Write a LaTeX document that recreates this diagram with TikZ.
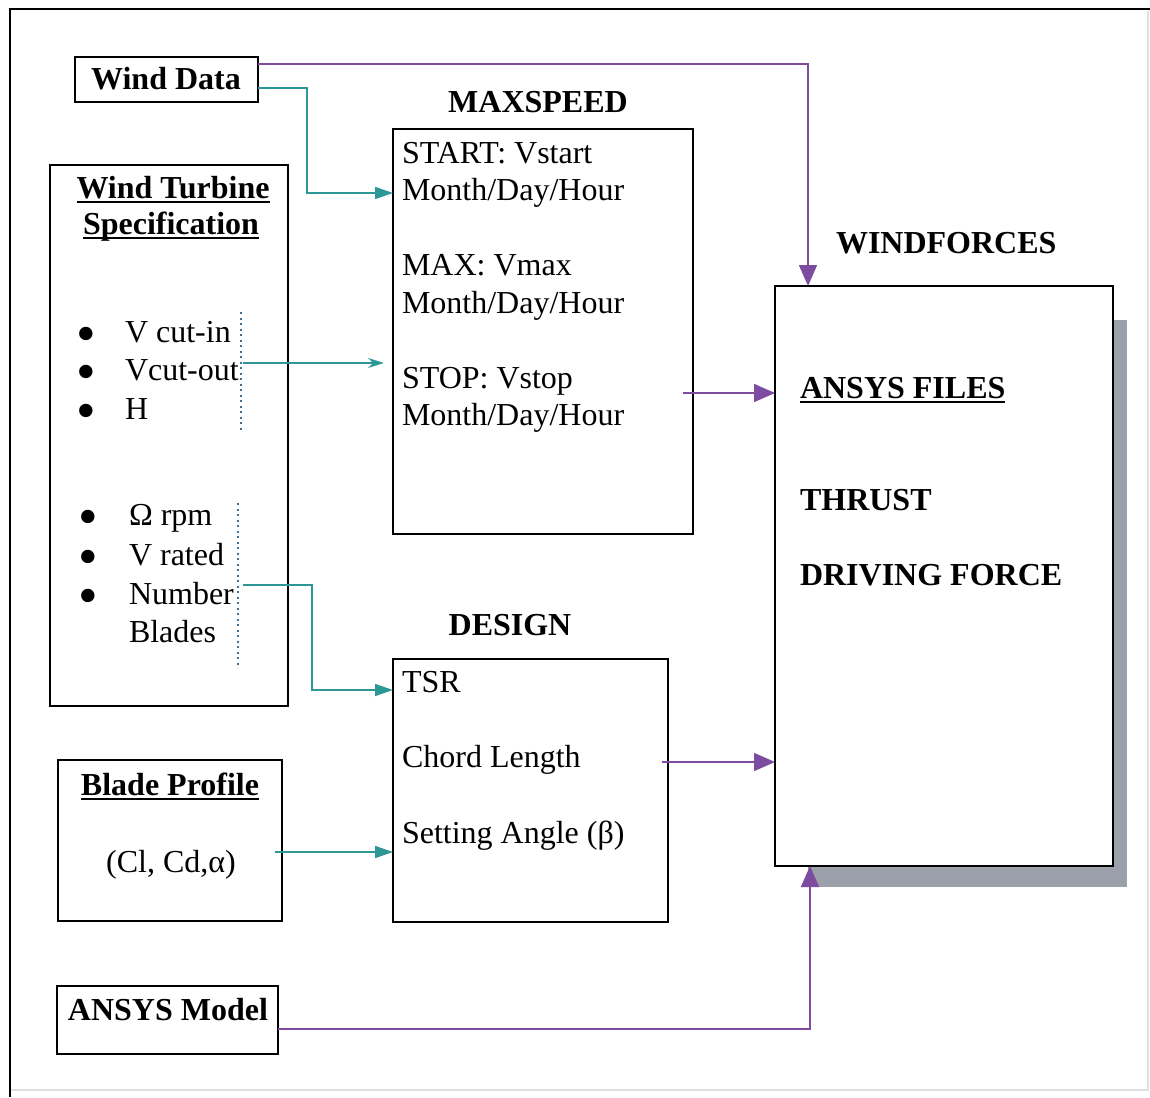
\documentclass[tikz,border=0pt]{standalone}
\usepackage{graphicx}
\usepackage{fontspec}
\setmainfont{Liberation Serif}
\usetikzlibrary{arrows.meta}
\definecolor{tealc}{RGB}{45,150,150}
\definecolor{purp}{RGB}{125,75,160}
\definecolor{dotc}{RGB}{60,110,150}
\definecolor{shad}{RGB}{155,160,170}
\newcommand\myul[1]{\setbox0\hbox{#1}\rlap{\rule[-5pt]{\wd0}{2pt}}\box0}
\newcommand\bigbul{\scalebox{1.75}{•}}
\begin{document}
\begin{tikzpicture}[x=1pt,y=-1pt,
 box/.style={draw=black, line width=2.4pt, fill=white, inner sep=0pt, outer sep=0pt, anchor=north west},
 txt/.style={inner sep=0pt, outer sep=0pt, font=\fontsize{32}{38}\selectfont, anchor=base west},
 txtc/.style={txt, anchor=base},
 bul/.style={inner sep=0pt, outer sep=0pt, font=\fontsize{32}{34}\selectfont, text height=6pt, text depth=0pt, anchor=base},
 bold/.style={font=\fontsize{32}{38}\selectfont\bfseries},
 tealarr/.style={draw=tealc, line width=1.6pt, -{Triangle[length=18pt,width=12pt]}},
 thinarr/.style={draw=tealc, line width=1.2pt, -{Stealth[length=16pt,width=10pt]}},
 purparr/.style={draw=purp, line width=1.6pt, -{Triangle[length=21pt,width=18pt]}},
 dotl/.style={draw=dotc, line width=2pt, dash pattern=on 2pt off 3.5pt},
 frame/.style={draw=black, line width=2pt},
 faint/.style={draw=black!12, line width=2pt}]
\useasboundingbox (0,0) rectangle (1150,1097);
% outer frame
\draw[faint] (1148,9) -- (1148,1090) -- (10,1090);
\draw[frame] (10,1097) -- (10,9) -- (1150,9);
% shadow of WINDFORCES box
\fill[shad] (808,320) rectangle (1127,887);
% boxes
\node[box, minimum width=183pt, minimum height=45pt] (wd) at (75,57) {};
\node[box, minimum width=238pt, minimum height=541pt] (wts) at (50,165) {};
\node[box, minimum width=224pt, minimum height=161pt] (bp) at (58,760) {};
\node[box, minimum width=221pt, minimum height=68pt] (am) at (57,986) {};
\node[box, minimum width=300pt, minimum height=405pt] (ms) at (393,129) {};
\node[box, minimum width=275pt, minimum height=263pt] (ds) at (393,659) {};
\node[box, minimum width=338pt, minimum height=580pt] (wf) at (775,286) {};
% titles
\node[txtc, bold] (t1) at (166,90) {Wind Data};
\node[txtc, bold] (t2) at (173,198) {\myul{Wind Turbine}};
\node[txtc, bold] (t3) at (171,234) {\myul{Specification}};
\node[txtc, bold] (t4) at (170,795) {\myul{Blade Profile}};
\node[txtc] (t5) at (171,872) {(Cl, Cd,α)};
\node[txtc, bold] (t6) at (168,1020) {ANSYS Model};
\node[txtc, bold] (t7) at (538,113) {MAXSPEED};
\node[txtc, bold] (t8) at (510,635) {DESIGN};
\node[txt, bold] (t9) at (836,253) {WINDFORCES};
% bullets
\node[bul] (b1) at (86,352) {\bigbul};
\node[bul] (b2) at (86,390) {\bigbul};
\node[bul] (b3) at (86,429) {\bigbul};
\node[bul] (b4) at (88,535) {\bigbul};
\node[bul] (b5) at (88,575) {\bigbul};
\node[bul] (b6) at (88,614) {\bigbul};
\node[txt] (s1) at (125,342) {V cut-in};
\node[txt] (s2) at (125,380) {Vcut-out};
\node[txt] (s3) at (125,419) {H};
\node[txt] (s4) at (129,525) {Ω rpm};
\node[txt] (s5) at (129,565) {V rated};
\node[txt] (s6) at (129,604) {Number};
\node[txt] (s7) at (129,642) {Blades};
% maxspeed content
\node[txt] (m1) at (402,163) {START: Vstart};
\node[txt] (m2) at (402,200) {Month/Day/Hour};
\node[txt] (m3) at (402,275) {MAX: Vmax};
\node[txt] (m4) at (402,313) {Month/Day/Hour};
\node[txt] (m5) at (402,388) {STOP: Vstop};
\node[txt] (m6) at (402,425) {Month/Day/Hour};
% design content
\node[txt] (d1) at (402,692) {TSR};
\node[txt] (d2) at (402,767) {Chord Length};
\node[txt] (d3) at (402,843) {Setting Angle (β)};
% windforces content
\node[txt, bold] (w1) at (800,398) {\myul{ANSYS FILES}};
\node[txt, bold] (w2) at (800,510) {THRUST};
\node[txt, bold] (w3) at (800,585) {DRIVING FORCE};
% dotted markers
\coordinate (dA1) at (241,312);
\coordinate (dA2) at (241,430);
\coordinate (dB1) at (238,503);
\coordinate (dB2) at (238,668);
\draw[dotl] (dA1) -- (dA2);
\draw[dotl] (dB1) -- (dB2);
% bend coordinates
\coordinate (k1) at (307,88);
\coordinate (k2) at (307,193);
\coordinate (k3) at (808,64);
\coordinate (k4) at (243,363);
\coordinate (k5) at (243,585);
\coordinate (k6) at (312,585);
\coordinate (k7) at (312,690);
\coordinate (k8) at (275,852);
\coordinate (k9) at (810,1029);
\coordinate (k10) at (683,393);
\coordinate (k11) at (662,762);
% connectors
\draw[tealarr] (wd.east |- k1) -- (k1) -- (k2) -- (ms.west |- k2);
\draw[purparr] (wd.east |- k3) -- (k3) -- (wf.north -| k3);
\draw[thinarr, shorten >=9pt] (k4) -- (ms.west |- k4);
\draw[tealarr] (k5) -- (k6) -- (k7) -- (ds.west |- k7);
\draw[tealarr] (k8) -- (ds.west |- k8);
\draw[purparr] (k10) -- (wf.west |- k10);
\draw[purparr] (k11) -- (wf.west |- k11);
\draw[purparr] (am.east |- k9) -- (k9) -- (wf.south -| k9);
\end{tikzpicture}
\end{document}
